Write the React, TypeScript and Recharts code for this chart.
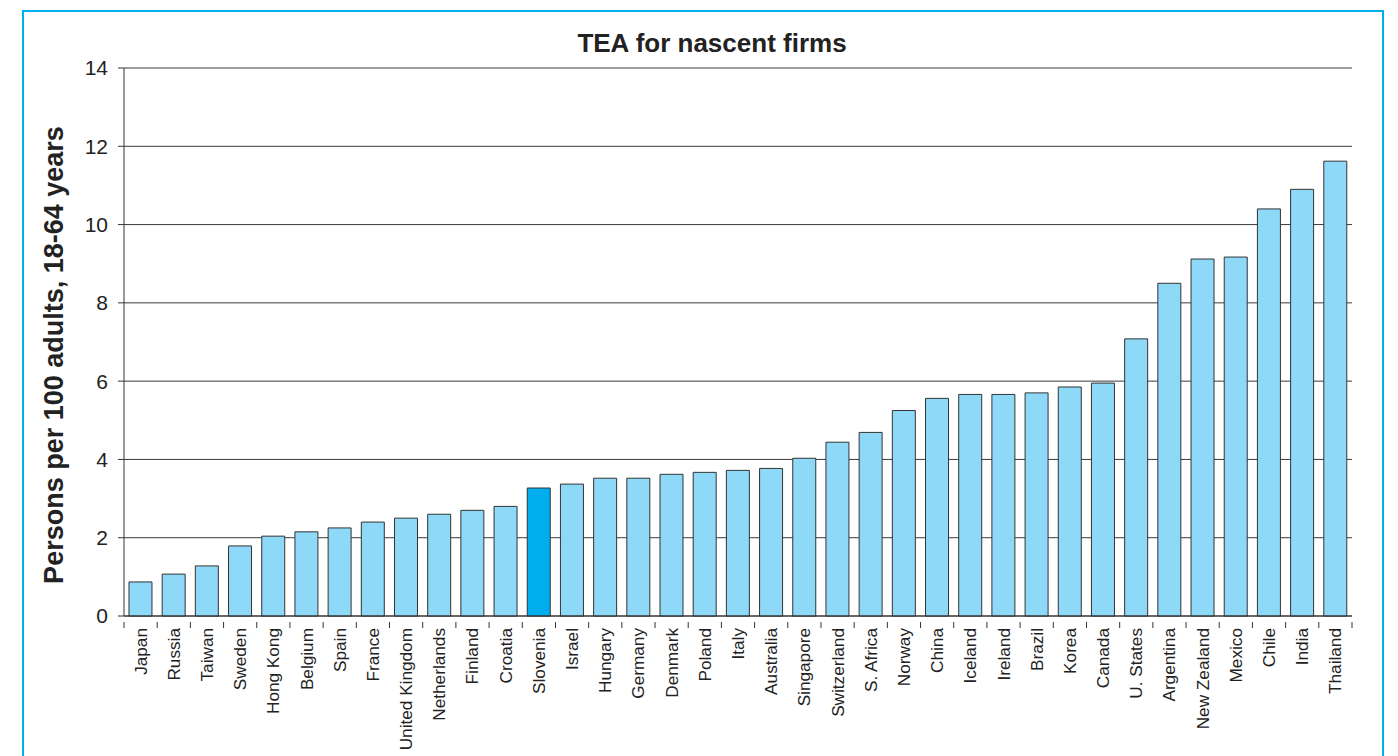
import React from 'react';
import { BarChart, Bar, XAxis, YAxis, CartesianGrid, Cell } from 'recharts';

const countries = ['Japan','Russia','Taiwan','Sweden','Hong Kong','Belgium','Spain','France','United Kingdom','Netherlands','Finland','Croatia','Slovenia','Israel','Hungary','Germany','Denmark','Poland','Italy','Australia','Singapore','Switzerland','S. Africa','Norway','China','Iceland','Ireland','Brazil','Korea','Canada','U. States','Argentina','New Zealand','Mexico','Chile','India','Thailand'];
const teaValues = [0.87,1.07,1.28,1.79,2.04,2.15,2.25,2.4,2.5,2.6,2.7,2.8,3.27,3.37,3.52,3.52,3.62,3.67,3.72,3.77,4.03,4.44,4.69,5.25,5.56,5.66,5.66,5.7,5.85,5.95,7.08,8.5,9.12,9.17,10.4,10.9,11.62];
const yTicks = [0,2,4,6,8,10,12,14];
const highlight = 'Slovenia';

const data = countries.map((c, i) => ({ country: c, value: teaValues[i] }));

const W = 1398, H = 756;
const margin = { top: 68, right: 46, left: 64, bottom: 0 };
const yAxisWidth = 60;
const plotWidth = W - margin.left - margin.right - yAxisWidth;
const band = plotWidth / countries.length;
const FONT = 'Liberation Sans, Arial, Helvetica, sans-serif';

const XTick = (props: any) => {
  const { x, y, payload, index } = props;
  const half = band / 2;
  return (
    <g>
      <line x1={x - half} y1={y} x2={x - half} y2={y + 6} stroke="#333" strokeWidth={1} />
      {index === countries.length - 1 && (
        <line x1={x + half} y1={y} x2={x + half} y2={y + 6} stroke="#333" strokeWidth={1} />
      )}
      <text x={x} y={y + 6} transform={`rotate(-90 ${x} ${y + 6})`} textAnchor="end" dominantBaseline="central"
        fontFamily={FONT} fontSize={17.2} fill="#222">
        {payload.value}
      </text>
    </g>
  );
};

const YLabel = () => (
  <text x={54} y={355} transform="rotate(-90 54 355)" textAnchor="middle" dominantBaseline="central"
    fontFamily={FONT} fontSize={27} fontWeight="bold" fill="#222">
    Persons per 100 adults, 18-64 years
  </text>
);

export default function App() {
  return (
    <div style={{ position: 'absolute', left: 0, top: 0, width: W, height: H, background: '#fff', overflow: 'hidden' }}>
      <div style={{ position: 'absolute', left: 22, top: 10, width: 1362, height: 800, border: '2px solid #00AEEF', boxSizing: 'border-box' }} />
      <div style={{ position: 'absolute', left: 0, top: 0 }}>
        <BarChart width={W} height={H} data={data} margin={margin} barCategoryGap="15%">
          <text x={712} y={52} textAnchor="middle"
            fontFamily={FONT} fontSize={26} fontWeight="bold" fill="#222">
            TEA for nascent firms
          </text>
          <CartesianGrid yAxisId="left" vertical={false} stroke="#3a3a3a" strokeWidth={1} />
          <XAxis dataKey="country" interval={0} height={140} tick={<XTick />} tickLine={false}
            axisLine={{ stroke: '#333' }} tickMargin={0} />
          <YAxis yAxisId="left" domain={[0, 14]} ticks={yTicks} width={yAxisWidth} interval={0}
            axisLine={{ stroke: '#333' }} tickLine={{ stroke: '#333' }} tickSize={6} tickMargin={10}
            tick={{ fontSize: 21, fill: '#222', fontFamily: FONT }}
            label={<YLabel />} />
          <YAxis yAxisId="right" orientation="right" domain={[0, 14]} ticks={yTicks} width={0}
            tick={false} tickLine={false} axisLine={{ stroke: '#777' }} />
          <Bar yAxisId="left" dataKey="value" stroke="#333" strokeWidth={1} isAnimationActive={false}>
            {data.map((d) => (
              <Cell key={d.country} fill={d.country === highlight ? '#00AEEF' : '#8ED8F8'} />
            ))}
          </Bar>
        </BarChart>
      </div>
    </div>
  );
}
